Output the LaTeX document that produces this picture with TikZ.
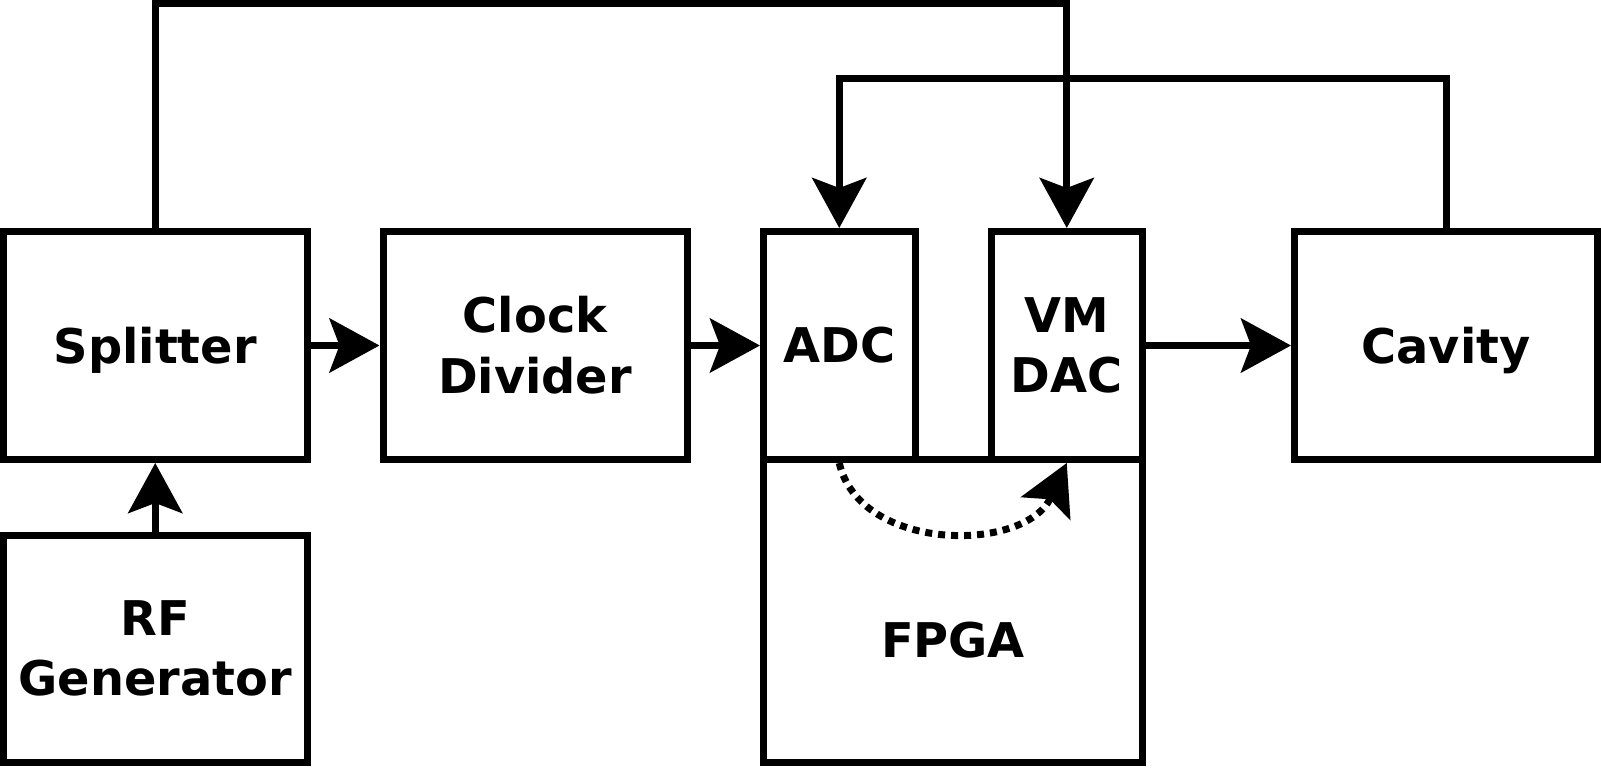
\documentclass[tikz,border=0pt]{standalone}
\usepackage{fontspec}
\setmainfont{DejaVu Sans}
\usetikzlibrary{arrows.meta}
\begin{document}
\begin{tikzpicture}[x=1bp,y=-1bp,
  box/.style={draw, line width=7bp, rectangle, inner sep=0pt, align=center,
    font=\fontsize{48}{61}\selectfont\bfseries},
  lbl/.style={inner sep=0pt, align=center, font=\fontsize{48}{61}\selectfont\bfseries},
  arr/.style={line width=7bp, line join=miter,
    -{Stealth[length=50bp, width=54bp, inset=10bp]}},
  dotarr/.style={line width=7bp, dash pattern=on 7bp off 6bp,
    -{Stealth[length=50bp, width=54bp, inset=10bp]}}
]
\useasboundingbox (0,0) rectangle (1601,768);
\node[box, minimum width=303.5bp, minimum height=228bp, text depth=0pt] (splitter) at (155.25,345.5) {Splitter};
\node[box, minimum width=303.5bp, minimum height=227bp] (rfgen) at (155.25,648.5) {RF\\Generator};
\node[box, minimum width=304bp, minimum height=228bp] (clock) at (535,345.5) {Clock\\Divider};
\node[box, minimum width=379bp, minimum height=302.5bp] (fpga) at (953,610.75) {};
\node[lbl] (fpgatext) at (953,640) {FPGA};
\node[box, minimum width=151.5bp, minimum height=228bp] (adc) at (839.25,345.5) {ADC};
\node[box, minimum width=151.5bp, minimum height=228bp] (vmdac) at (1066.75,345.5) {VM\\DAC};
\node[box, minimum width=303bp, minimum height=228bp, text depth=0pt] (cavity) at (1446,345.5) {Cavity};

\coordinate (topA) at (155.25,3.5);
\coordinate (topB) at (1446,78.5);

\draw[arr] (splitter.east) -- (clock.west);
\draw[arr] (clock.east) -- (adc.west);
\draw[arr] (vmdac.east) -- (cavity.west);
\draw[arr] (rfgen.north) -- (splitter.south);
\draw[arr] (splitter.north) -- (topA) -| (vmdac.north);
\draw[arr] (cavity.north) -- (topB) -| (adc.north);
\draw[dotarr] (adc.south) .. controls (860,553) and (1025,553) .. (vmdac.south);
\end{tikzpicture}
\end{document}
